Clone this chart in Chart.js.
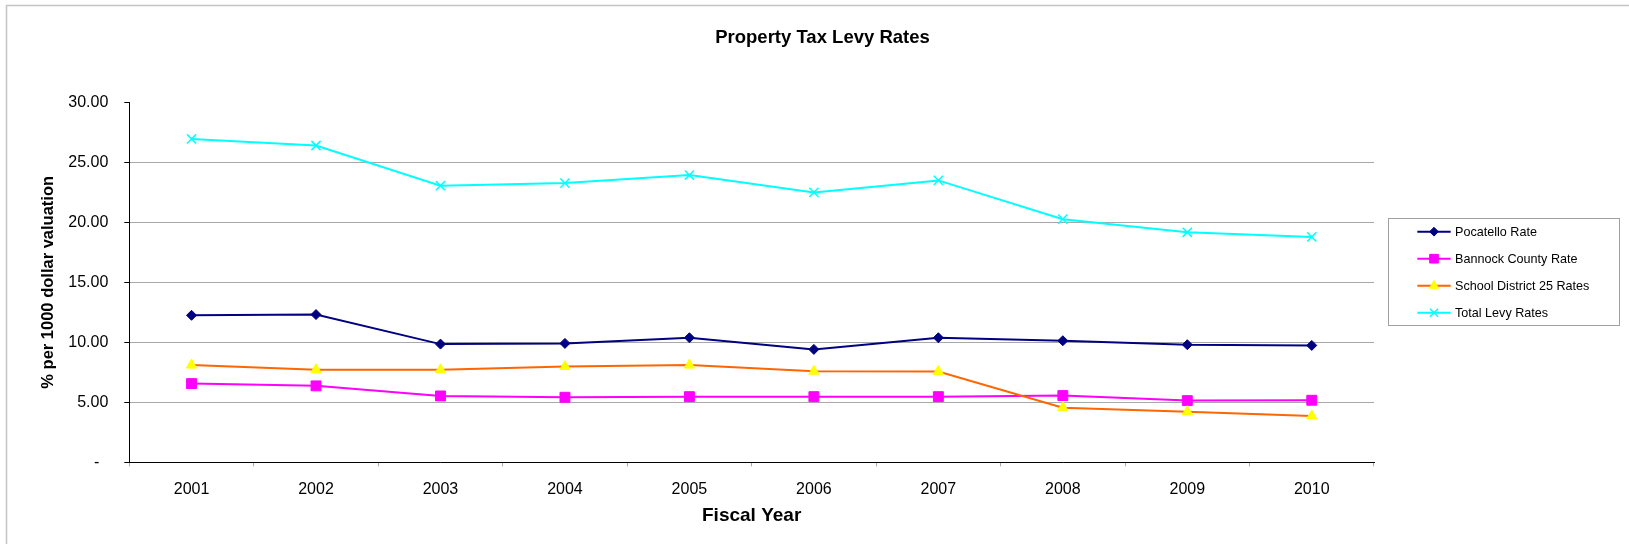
<!DOCTYPE html>
<html>
<head>
<meta charset="utf-8">
<title>Property Tax Levy Rates</title>
<script src="https://cdn.jsdelivr.net/npm/chart.js@4/dist/chart.umd.min.js"></script>
<style>
  html, body { margin: 0; padding: 0; background: #fff; }
  canvas { display: block; }
</style>
</head>
<body>
<canvas id="levyChart" width="1629" height="544"></canvas>
<script>
// levy rates per 1000 dollar valuation, by fiscal year
const years = ['2001', '2002', '2003', '2004', '2005', '2006', '2007', '2008', '2009', '2010'];
const pocatelloRate = [12.25, 12.31, 9.85, 9.91, 10.38, 9.41, 10.38, 10.13, 9.80, 9.74];
const bannockRate = [6.56, 6.37, 5.53, 5.42, 5.47, 5.47, 5.47, 5.56, 5.14, 5.17];
const schoolRate = [8.10, 7.71, 7.71, 7.98, 8.10, 7.59, 7.57, 4.55, 4.22, 3.86];
const totalRate = [26.95, 26.40, 23.05, 23.27, 23.94, 22.49, 23.49, 20.26, 19.17, 18.78];
const yTicks = [0, 5, 10, 15, 20, 25, 30];

const FONT = "'Liberation Sans', Arial, sans-serif";
Chart.defaults.font.family = FONT;
Chart.defaults.color = '#000';

const series = [
  { label: 'Pocatello Rate', data: pocatelloRate, line: '#000080', fill: '#000080', point: 'rectRot', r: 5 },
  { label: 'Bannock County Rate', data: bannockRate, line: '#ff00ff', fill: '#ff00ff', point: 'rect', r: 7 },
  { label: 'School District 25 Rates', data: schoolRate, line: '#ff6600', fill: '#ffff00', point: 'triangle', r: 6 },
  { label: 'Total Levy Rates', data: totalRate, line: '#00ffff', fill: '#00ffff', point: 'crossRot', r: 6.5 },
];

// outer frame + title
const frame = {
  id: 'frame',
  beforeDraw(chart) {
    const ctx = chart.ctx;
    ctx.save();
    ctx.strokeStyle = '#c4c4c4';
    ctx.lineWidth = 1.5;
    ctx.beginPath();
    ctx.moveTo(6.5, chart.height + 5);
    ctx.lineTo(6.5, 5.5);
    ctx.lineTo(chart.width + 5, 5.5);
    ctx.stroke();
    ctx.fillStyle = '#000';
    ctx.font = 'bold 18.5px ' + FONT;
    ctx.textAlign = 'center';
    ctx.textBaseline = 'middle';
    ctx.fillText('Property Tax Levy Rates', 822.5, 38);
    ctx.restore();
  }
};

// boxed legend on the right, line + marker per series
const sideLegend = {
  id: 'sideLegend',
  afterDraw(chart) {
    const ctx = chart.ctx;
    ctx.save();
    ctx.strokeStyle = '#a0a0a0';
    ctx.lineWidth = 1;
    ctx.strokeRect(1388.5, 218.5, 231, 107);
    ctx.font = '12.6px ' + FONT;
    ctx.textBaseline = 'middle';
    ctx.textAlign = 'left';
    series.forEach((s, i) => {
      const y = 231.7 + i * 27;
      ctx.strokeStyle = s.line;
      ctx.lineWidth = 2;
      ctx.beginPath();
      ctx.moveTo(1417.3, y);
      ctx.lineTo(1450.7, y);
      ctx.stroke();
      ctx.fillStyle = s.fill;
      ctx.strokeStyle = s.point === 'crossRot' ? s.line : s.fill;
      ctx.lineWidth = s.point === 'crossRot' ? 1.5 : 1;
      Chart.helpers.drawPoint(ctx, { pointStyle: s.point, radius: s.r * 0.88, rotation: 0, borderWidth: ctx.lineWidth }, 1434, y);
      ctx.fillStyle = '#000';
      ctx.fillText(s.label, 1455, y + 0.5);
    });
    ctx.restore();
  }
};

new Chart(document.getElementById('levyChart'), {
  type: 'line',
  data: {
    labels: years,
    datasets: series.map((s, i) => ({
      label: s.label,
      data: s.data,
      borderColor: s.line,
      borderWidth: 2,
      backgroundColor: s.fill,
      pointStyle: s.point,
      pointRadius: s.r,
      pointBackgroundColor: s.fill,
      pointBorderColor: s.point === 'crossRot' ? s.line : s.fill,
      pointBorderWidth: s.point === 'crossRot' ? 1.5 : 1,
      tension: 0,
      fill: false,
      order: series.length - i,
    })),
  },
  options: {
    responsive: false,
    animation: false,
    devicePixelRatio: 1,
    layout: { padding: { left: 10, top: 102.3, right: 255, bottom: 0 } },
    plugins: { legend: { display: false }, title: { display: false }, tooltip: { enabled: false } },
    scales: {
      x: {
        offset: true,
        afterFit: (scale) => { scale.height = 544 - 462.3; },
        grid: { display: true, offset: true, drawOnChartArea: false, drawTicks: true, tickLength: 4, tickColor: '#a8a8a8' },
        border: { display: true, color: '#000', width: 1 },
        ticks: { font: { size: 16 }, padding: 14, maxRotation: 0, autoSkip: false },
        title: { display: true, text: 'Fiscal Year', font: { size: 19, weight: 'bold' }, padding: { top: 0, bottom: 17 } },
      },
      y: {
        min: 0,
        max: 30,
        afterFit: (scale) => { scale.width = 129.3 - 10; },
        afterBuildTicks: (scale) => { scale.ticks = yTicks.map(v => ({ value: v })); },
        grid: {
          color: (c) => (c.tick && c.tick.value === 30) ? 'rgba(0,0,0,0)' : '#a8a8a8',
          lineWidth: 1,
          drawTicks: true,
          tickLength: 5,
          tickColor: '#000',
        },
        border: { display: true, color: '#000', width: 1 },
        ticks: {
          font: { size: 16 },
          padding: 16,
          callback: (v) => v === 0 ? '-  ' : v.toFixed(2),
        },
        title: { display: true, text: '% per 1000 dollar valuation', font: { size: 16.5, weight: 'bold' }, padding: { top: 28.6, bottom: 0 } },
      },
    },
  },
  plugins: [frame, sideLegend],
});
</script>
</body>
</html>
